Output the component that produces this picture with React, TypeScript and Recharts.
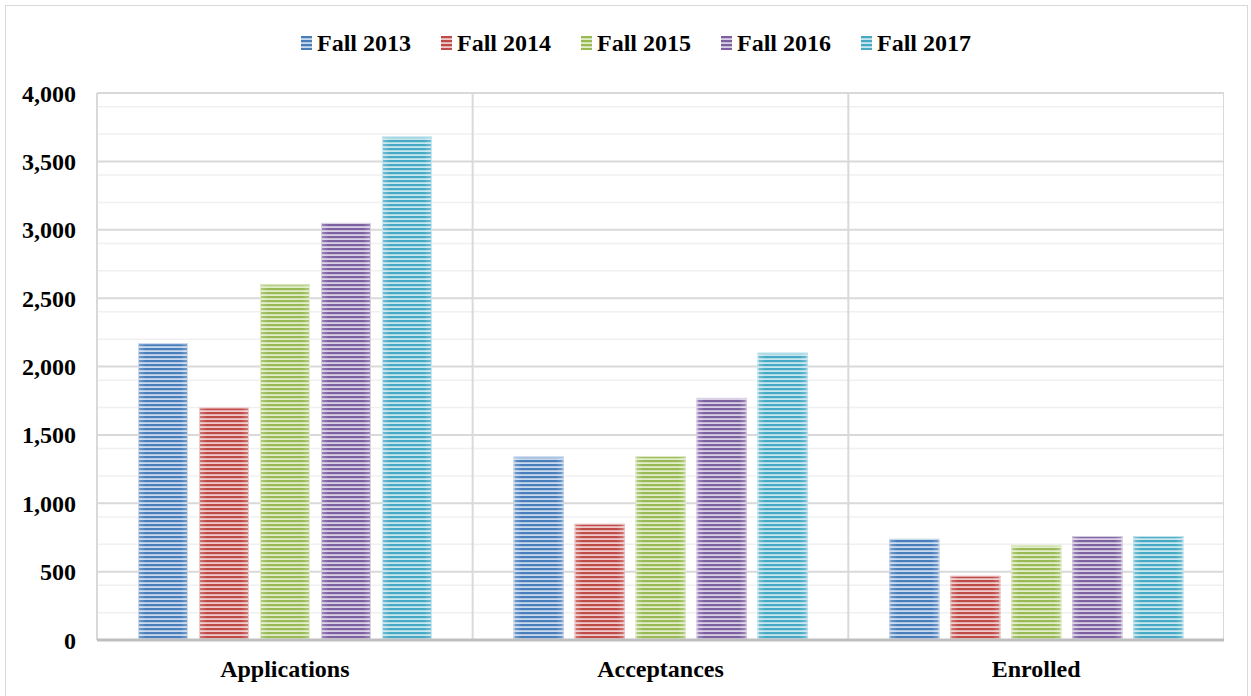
import {
  Bar,
  BarChart,
  CartesianGrid,
  Legend,
  XAxis,
  YAxis,
} from "recharts";

const categories = ["Applications", "Acceptances", "Enrolled"];
const fall2013 = [2170, 1340, 740];
const fall2014 = [1700, 850, 470];
const fall2015 = [2600, 1345, 695];
const fall2016 = [3050, 1770, 760];
const fall2017 = [3680, 2100, 760];
const yTicks = [0, 500, 1000, 1500, 2000, 2500, 3000, 3500, 4000];
const minorTicks = [
  100, 200, 300, 400, 600, 700, 800, 900, 1100, 1200, 1300, 1400, 1600, 1700,
  1800, 1900, 2100, 2200, 2300, 2400, 2600, 2700, 2800, 2900, 3100, 3200, 3300,
  3400, 3600, 3700, 3800, 3900,
];

const series = [
  { key: "Fall 2013", values: fall2013, dark: "#4A7EBB", light: "#C9D9EE" },
  { key: "Fall 2014", values: fall2014, dark: "#BE4B48", light: "#EFCACA" },
  { key: "Fall 2015", values: fall2015, dark: "#98B954", light: "#E1EDCB" },
  { key: "Fall 2016", values: fall2016, dark: "#7D60A0", light: "#DAD0E6" },
  { key: "Fall 2017", values: fall2017, dark: "#46AAC5", light: "#C8E6EF" },
];

const data = categories.map((name, i) => {
  const row: Record<string, string | number> = { name };
  series.forEach((s) => (row[s.key] = s.values[i]));
  return row;
});

const font = "'Liberation Serif', 'Times New Roman', serif";

function patternId(i: number) {
  return `stripes-${i}`;
}

function StripedBar(props: any) {
  const { x, y, width, height, seriesIndex } = props;
  if (!height || height <= 0) return null;
  const s = series[seriesIndex];
  return (
    <g>
      <rect x={x} y={y} width={width} height={height} fill={`url(#${patternId(seriesIndex)})`} />
      <rect
        x={x + 0.5}
        y={y + 0.5}
        width={width - 1}
        height={height - 1}
        fill="url(#gloss)"
        stroke={s.light}
        strokeWidth={1}
      />
    </g>
  );
}

function LegendContent() {
  return (
    <div
      style={{
        display: "flex",
        justifyContent: "center",
        alignItems: "center",
        height: 30,
        fontFamily: font,
        fontWeight: "bold",
        fontSize: 24,
        color: "#000",
        gap: 30,
        paddingLeft: 48,
      }}
    >
      {series.map((s, i) => (
        <div key={s.key} style={{ display: "flex", alignItems: "center", gap: 5 }}>
          <svg width={11} height={14}>
            <rect width={11} height={14} fill={`url(#${patternId(i)})`} />
          </svg>
          <span>{s.key}</span>
        </div>
      ))}
    </div>
  );
}

export default function App() {
  return (
    <div style={{ position: "absolute", left: 0, top: 0, width: 1251, height: 696, background: "#fff", overflow: "hidden" }}>
      <div
        style={{
          position: "absolute",
          left: 5,
          top: 5,
          width: 1241,
          height: 700,
          border: "1px solid #D9D9D9",
        }}
      />
      <div style={{ position: "absolute", left: 0, top: 0 }}>
        <BarChart
          width={1224}
          height={696}
          data={data}
          margin={{ top: 63, right: 0, bottom: 0, left: 0 }}
          barSize={50}
          barGap={11}
        >
          <defs>
            {series.map((s, i) => (
              <pattern
                key={s.key}
                id={patternId(i)}
                patternUnits="userSpaceOnUse"
                width={8}
                height={4}
              >
                <rect width={8} height={4} fill={s.light} />
                <rect width={8} height={2.2} fill={s.dark} />
              </pattern>
            ))}
            <linearGradient id="gloss" x1="0" y1="0" x2="1" y2="0">
              <stop offset="0" stopColor="#fff" stopOpacity={0.25} />
              <stop offset="0.15" stopColor="#fff" stopOpacity={0} />
              <stop offset="0.85" stopColor="#fff" stopOpacity={0} />
              <stop offset="1" stopColor="#fff" stopOpacity={0.25} />
            </linearGradient>
          </defs>
          <CartesianGrid
            vertical={false}
            horizontalValues={minorTicks}
            stroke="#F0F0F0"
            strokeWidth={1.5}
          />
          <CartesianGrid
            horizontalValues={yTicks}
            stroke="#D9D9D9"
            strokeWidth={2}
            verticalCoordinatesGenerator={({ offset }: any) => {
              const step = offset.width / categories.length;
              return categories.map((_, i) => offset.left + step * i).concat(offset.left + offset.width);
            }}
          />
          <XAxis
            dataKey="name"
            height={56}
            tickLine={false}
            tickSize={0}
            tickMargin={20}
            axisLine={{ stroke: "#BFBFBF", strokeWidth: 3 }}
            tick={{ fontFamily: font, fontWeight: "bold", fontSize: 24, fill: "#000" }}
          />
          <YAxis
            width={97}
            domain={[0, 4000]}
            ticks={yTicks}
            tickLine={false}
            axisLine={false}
            tickSize={0}
            tickMargin={21}
            tickFormatter={(v: number) => v.toLocaleString("en-US")}
            tick={{ fontFamily: font, fontWeight: "bold", fontSize: 24, fill: "#000" }}
          />
          <Legend
            verticalAlign="top"
            wrapperStyle={{ top: 28 }}
            content={() => <LegendContent />}
          />
          {series.map((s, i) => (
            <Bar
              key={s.key}
              dataKey={s.key}
              fill={s.dark}
              isAnimationActive={false}
              shape={(p: any) => <StripedBar {...p} seriesIndex={i} />}
            />
          ))}
        </BarChart>
      </div>
    </div>
  );
}
